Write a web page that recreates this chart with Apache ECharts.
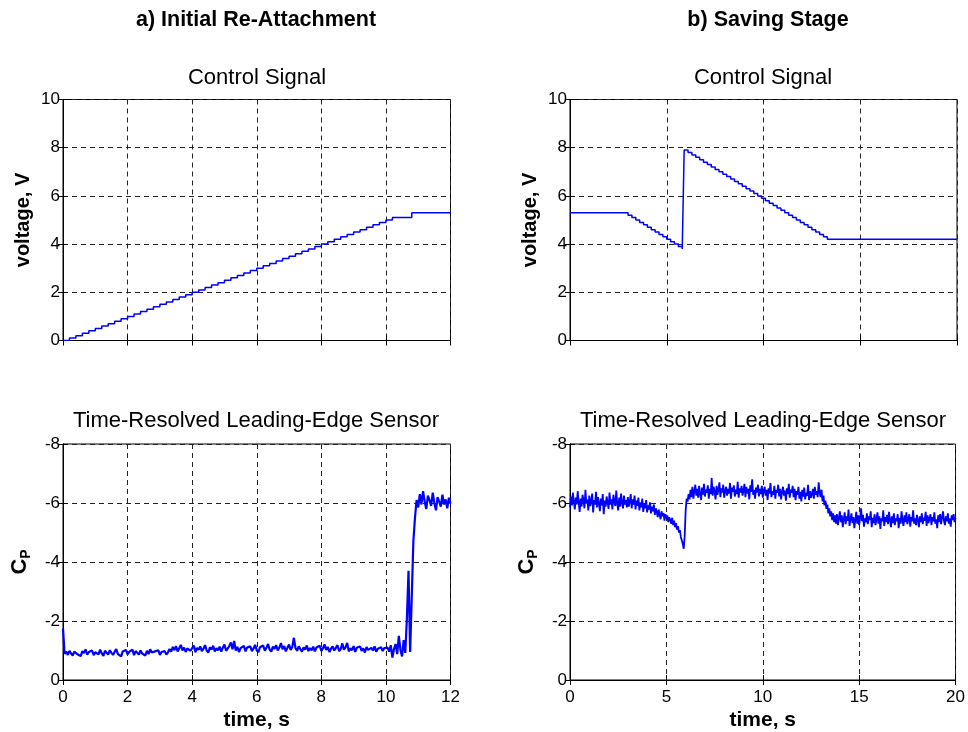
<!DOCTYPE html>
<html>
<head>
<meta charset="utf-8">
<script src="https://cdn.jsdelivr.net/npm/echarts@6/dist/echarts.min.js"></script>
<style>
  html, body { margin: 0; padding: 0; background: #fff; }
  #chart { width: 968px; height: 732px; }
</style>
</head>
<body>
<div id="chart"></div>
<script>
// ---- a) control signal: staircase ramp (step start time, s / level, V) ----
const ctrlA_t = [0, 0.2, 0.4, 0.6, 0.8, 1.0, 1.2, 1.4, 1.6, 1.8,
  2.0, 2.2, 2.4, 2.6, 2.8, 3.0, 3.2, 3.4, 3.6, 3.8,
  4.0, 4.2, 4.4, 4.6, 4.8, 5.0, 5.2, 5.4, 5.6, 5.8,
  6.0, 6.2, 6.4, 6.6, 6.8, 7.0, 7.2, 7.4, 7.6, 7.8,
  8.0, 8.2, 8.4, 8.6, 8.8, 9.0, 9.2, 9.4, 9.6, 9.8,
  10.0, 10.2, 10.8, 12.0];
const ctrlA_v = [0.0, 0.1, 0.2, 0.3, 0.4, 0.5, 0.6, 0.7, 0.8, 0.9,
  1.0, 1.1, 1.2, 1.3, 1.4, 1.5, 1.6, 1.7, 1.8, 1.9,
  2.0, 2.1, 2.2, 2.3, 2.4, 2.5, 2.6, 2.7, 2.8, 2.9,
  3.0, 3.1, 3.2, 3.3, 3.4, 3.5, 3.6, 3.7, 3.8, 3.9,
  4.0, 4.1, 4.2, 4.3, 4.4, 4.5, 4.6, 4.7, 4.8, 4.9,
  5.0, 5.1, 5.3, 5.3];

// ---- b) control signal: hold, ramp down, jump, ramp down, hold ----
const ctrlB_t = [0, 3.0, 3.2, 3.4, 3.6, 3.8, 4.0, 4.2, 4.4, 4.6, 4.8, 5.0, 5.2, 5.4, 5.6, 5.8,
  5.9, 6.1, 6.3, 6.5, 6.7, 6.9, 7.1, 7.3, 7.5, 7.7, 7.9, 8.1, 8.3, 8.5, 8.7, 8.9,
  9.1, 9.3, 9.5, 9.7, 9.9, 10.1, 10.3, 10.5, 10.7, 10.9, 11.1, 11.3, 11.5, 11.7, 11.9,
  12.1, 12.3, 12.5, 12.7, 12.9, 13.1, 13.3, 20.0];
const ctrlB_v = [5.3, 5.2, 5.1, 5.0, 4.9, 4.8, 4.7, 4.6, 4.5, 4.4, 4.3, 4.2, 4.1, 4.0, 3.9, 3.8,
  7.9, 7.8, 7.7, 7.6, 7.5, 7.4, 7.3, 7.2, 7.1, 7.0, 6.9, 6.8, 6.7, 6.6, 6.5, 6.4,
  6.3, 6.2, 6.1, 6.0, 5.9, 5.8, 5.7, 5.6, 5.5, 5.4, 5.3, 5.2, 5.1, 5.0, 4.9,
  4.8, 4.7, 4.6, 4.5, 4.4, 4.3, 4.2, 4.2];

// ---- a) leading-edge pressure coefficient, sampled every 0.05 s from t = 0 ----
const cpA_dt = 0.05;
const cpA = [
  -1.75,
  -0.88, -0.97, -0.85, -0.99, -0.90, -0.83, -0.96, -1.02, -0.87, -0.93,
  -0.81, -0.98, -0.91, -1.04, -0.86, -0.95, -0.89, -1.00, -0.84, -0.94,
  -0.97, -0.87, -1.03, -0.90, -0.82, -0.99, -0.93, -0.86, -1.01, -0.92,
  -0.85, -0.96, -1.05, -0.88, -0.94, -0.80, -0.97, -0.91, -1.02, -0.87,
  -0.95, -0.89, -1.03, -0.84, -0.98, -0.92, -0.86, -1.00, -0.90, -0.96,
  -0.83, -0.99, -0.88, -1.04, -0.93, -0.87, -0.97, -0.91, -1.01, -0.85,
  -0.95, -0.90, -0.98, -0.86, -0.94,
  -1.05, -0.96, -1.12, -1.01, -1.15, -0.97, -1.08, -1.19, -1.00, -1.10,
  -0.95, -1.07, -1.13, -0.99, -1.04, -1.17, -0.94, -1.09, -1.02, -1.14,
  -0.98, -1.06, -1.18, -1.00, -0.93, -1.11, -1.03, -1.16, -0.97, -1.08,
  -1.01, -1.13, -0.96, -1.10, -1.20, -0.99, -1.05, -1.15, -1.27, -1.04,
  -1.32, -1.00, -1.12, -0.95, -1.08, -1.02, -1.16, -0.97, -1.10, -1.04,
  -1.14, -0.98, -1.07, -1.19, -1.01, -0.94, -1.11, -1.05, -1.17, -0.99,
  -1.09, -1.22, -1.03, -0.96, -1.13, -1.06, -1.18, -1.00, -1.10, -1.25,
  -1.04, -1.15, -0.97, -1.09, -1.20, -1.02, -1.12, -1.43, -1.08, -0.99,
  -1.14, -1.05, -0.96, -1.11, -1.03, -1.17, -0.98, -1.08, -1.01, -1.13,
  -0.97, -1.10, -1.04, -1.16, -0.99, -1.07, -1.21, -1.02, -1.12, -0.95,
  -1.06, -1.14, -1.00, -1.09, -1.18, -0.98, -1.05, -1.24, -1.03, -1.11,
  -1.26, -0.97, -1.08, -1.01, -1.15, -0.95, -1.10, -1.04, -1.13, -0.99,
  -1.07, -0.93, -1.12, -1.02, -0.97, -1.09, -1.00, -1.14, -0.96, -1.06,
  -1.01, -1.11, -0.98, -1.08, -1.03,
  -1.10, -0.96, -1.18, -0.76, -1.05, -1.22, -0.88, -1.50, -1.02, -0.80, -1.35, -0.92,
  -2.10, -3.70, -0.95, -2.80, -4.70, -5.50, -6.10,
  -5.85, -6.30, -5.95, -6.40, -6.05, -5.80, -6.25, -6.10, -5.90, -6.35,
  -6.00, -5.75, -6.20, -6.05, -5.88, -6.28, -5.95, -6.12, -5.82, -6.18, -5.98
];

// ---- b) leading-edge pressure coefficient, sampled every 0.05 s from t = 0 ----
const cpB_dt = 0.05;
const cpB = [
  // 0 - 2.95 s
  -5.85, -6.22, -5.92, -6.35, -6.05, -5.78, -6.18, -5.95, -6.40, -6.02,
  -5.70, -6.15, -5.88, -6.28, -6.08, -5.82, -6.45, -5.98, -6.12, -5.75,
  -6.25, -5.90, -6.05, -6.32, -5.68, -6.10, -5.95, -6.38, -5.85, -6.20,
  -6.00, -5.72, -6.15, -5.92, -6.30, -5.62, -6.08, -5.88, -6.22, -6.02,
  -5.80, -6.35, -5.95, -6.12, -5.78, -6.28, -6.05, -5.90, -6.42, -5.98,
  -5.75, -6.18, -5.88, -6.32, -6.00, -5.82, -6.25, -5.95, -6.10, -5.85,
  // 3.0 - 4.45 s
  -6.20, -5.88, -6.05, -6.30, -5.82, -6.12, -5.95, -6.25, -5.78, -6.08,
  -5.90, -6.18, -5.75, -6.02, -5.85, -6.15, -5.70, -5.98, -5.82, -6.10,
  -5.68, -5.92, -5.78, -6.02, -5.65, -5.88, -5.72, -5.95, -5.60, -5.82,
  // 4.5 - 5.9 s
  -5.70, -5.52, -5.78, -5.60, -5.45, -5.72, -5.55, -5.66, -5.40, -5.62,
  -5.48, -5.58, -5.35, -5.52, -5.42, -5.30, -5.50, -5.25, -5.40, -5.18,
  -5.32, -5.10, -5.22, -5.00, -5.08, -4.85, -4.90, -4.62, -4.45,
  // 5.95 - 6.05 s
  -4.90, -5.75, -6.15,
  // 6.1 - 12.95 s
  -6.05, -6.30, -6.12, -6.45, -6.20, -6.55, -6.15, -6.40, -6.62, -6.25,
  -6.48, -6.18, -6.58, -6.32, -6.10, -6.52, -6.28, -6.65, -6.22, -6.45,
  -6.35, -6.60, -6.15, -6.48, -6.30, -6.85, -6.25, -6.55, -6.38, -6.12,
  -6.58, -6.28, -6.45, -6.70, -6.20, -6.50, -6.35, -6.62, -6.18, -6.42,
  -6.55, -6.25, -6.48, -6.32, -6.68, -6.15, -6.52, -6.38, -6.60, -6.22,
  -6.45, -6.30, -6.72, -6.18, -6.50, -6.35, -6.58, -6.25, -6.42, -6.65,
  -6.20, -6.55, -6.32, -6.48, -6.12, -6.60, -6.38, -6.80, -6.28, -6.45,
  -6.15, -6.52, -6.35, -6.62, -6.22, -6.48, -6.30, -6.58, -6.18, -6.42,
  -6.55, -6.25, -6.45, -6.10, -6.50, -6.32, -6.68, -6.20, -6.40, -6.28,
  -6.58, -6.15, -6.45, -6.35, -6.62, -6.22, -6.48, -6.12, -6.38, -6.55,
  -6.25, -6.42, -6.08, -6.50, -6.30, -6.65, -6.18, -6.45, -6.35, -6.58,
  -6.20, -6.48, -6.10, -6.40, -6.28, -6.55, -6.15, -6.38, -6.05, -6.45,
  -6.22, -6.52, -6.12, -6.35, -6.25, -6.62, -6.10, -6.40, -6.18, -6.30,
  -6.48, -6.15, -6.55, -6.28, -6.40, -6.20, -6.70, -6.35,
  // 13.0 - 13.75 s
  -6.20, -6.45, -6.05, -6.25, -5.92, -6.08, -5.80, -5.95,
  -5.65, -5.82, -5.55, -5.72, -5.42, -5.65, -5.35, -5.58,
  // 13.8 - 20.0 s
  -5.30, -5.62, -5.25, -5.50, -5.72, -5.35, -5.58, -5.18, -5.45, -5.68,
  -5.28, -5.55, -5.40, -5.78, -5.22, -5.48, -5.65, -5.32, -5.52, -5.15,
  -5.42, -5.70, -5.30, -5.58, -5.25, -5.50, -5.82, -5.38, -5.60, -5.20,
  -5.48, -5.35, -5.65, -5.28, -5.55, -5.42, -5.72, -5.18, -5.50, -5.32,
  -5.62, -5.25, -5.45, -5.68, -5.30, -5.55, -5.12, -5.48, -5.38, -5.75,
  -5.22, -5.52, -5.35, -5.60, -5.28, -5.70, -5.42, -5.18, -5.55, -5.32,
  -5.65, -5.25, -5.48, -5.38, -5.62, -5.15, -5.50, -5.30, -5.72, -5.40,
  -5.22, -5.58, -5.35, -5.68, -5.28, -5.45, -5.62, -5.20, -5.52, -5.38,
  -5.75, -5.30, -5.48, -5.25, -5.60, -5.42, -5.18, -5.55, -5.35, -5.65,
  -5.28, -5.50, -5.40, -5.70, -5.22, -5.58, -5.32, -5.48, -5.62, -5.25,
  -5.52, -5.38, -5.68, -5.30, -5.45, -5.15, -5.58, -5.35, -5.62, -5.28,
  -5.50, -5.72, -5.40, -5.25, -5.55, -5.38, -5.65, -5.30, -5.48, -5.20,
  -5.58, -5.42, -5.62, -5.35, -5.50
];

const FONT = '"Liberation Sans", Arial, Helvetica, sans-serif';
const BLUE = '#0000ff';

const pairs = (xs, ys) => xs.map((x, i) => [x, ys[i]]);
const sampled = (ys, dt) => ys.map((y, i) => [+(i * dt).toFixed(3), y]);

const grids = [
  { left: 63, top: 99.5, width: 387.5, height: 241 },
  { left: 570, top: 99.5, width: 387, height: 241 },
  { left: 63, top: 444, width: 387.5, height: 239 },
  { left: 570, top: 444, width: 387, height: 239 }
].map(g => Object.assign({ show: true, borderColor: '#000', borderWidth: 1, backgroundColor: '#fff' }, g));

const gridLine = { show: true, lineStyle: { color: '#222', width: 1, type: [5, 4] } };
const tickLabel = { fontFamily: FONT, fontSize: 17, color: '#000' };

function xAx(gi, max, interval, showLabels) {
  return {
    type: 'value', gridIndex: gi, min: 0, max: max, interval: interval,
    axisLine: { show: true, onZero: false, lineStyle: { color: '#000', width: 1 } },
    axisTick: { show: true, inside: true, length: 5, lineStyle: { color: '#000' } },
    axisLabel: Object.assign({ show: showLabels, margin: 9 }, tickLabel),
    splitLine: gridLine,
    name: showLabels ? 'time, s' : '',
    nameLocation: 'middle', nameGap: 30,
    nameTextStyle: { fontFamily: FONT, fontSize: 21, fontWeight: 'bold', color: '#000' }
  };
}
function xTop(gi, max, interval) {
  return {
    type: 'value', gridIndex: gi, min: 0, max: max, interval: interval, position: 'top',
    axisLine: { show: true, lineStyle: { color: '#000' } },
    axisTick: { show: true, inside: true, length: 5, lineStyle: { color: '#000' } },
    axisLabel: { show: false }, splitLine: { show: false }
  };
}
function yAx(gi, min, max, inverse, name, nameStyle) {
  return {
    type: 'value', gridIndex: gi, min: min, max: max, interval: 2, inverse: inverse,
    axisLine: { show: true, onZero: false, lineStyle: { color: '#000', width: 1 } },
    axisTick: { show: true, inside: true, length: 5, lineStyle: { color: '#000' } },
    axisLabel: Object.assign({ margin: 3 }, tickLabel),
    splitLine: gridLine,
    name: name, nameLocation: 'middle', nameGap: 30,
    nameTextStyle: nameStyle
  };
}
function yRight(gi, min, max, inverse) {
  return {
    type: 'value', gridIndex: gi, min: min, max: max, interval: 2, inverse: inverse, position: 'right',
    axisLine: { show: true, lineStyle: { color: '#000' } },
    axisTick: { show: true, inside: true, length: 5, lineStyle: { color: '#000' } },
    axisLabel: { show: false }, splitLine: { show: false }
  };
}

const voltName = { fontFamily: FONT, fontSize: 20, fontWeight: 'bold', color: '#000' };
const cpName = {
  color: '#000',
  rich: {
    c: { fontFamily: FONT, fontSize: 22, fontWeight: 'bold', color: '#000' },
    p: { fontFamily: FONT, fontSize: 14, fontWeight: 'bold', color: '#000', padding: [12, 0, 0, 0] }
  }
};

const textEl = (x, y, text, size, weight) => ({
  type: 'text', x: x, y: y,
  style: { text: text, fontFamily: FONT, fontSize: size, fontWeight: weight, fill: '#000',
           textAlign: 'center', textVerticalAlign: 'middle' }
});

const option = {
  animation: false,
  backgroundColor: '#fff',
  grid: grids,
  xAxis: [
    xAx(0, 12, 2, false), xAx(1, 20, 5, false), xAx(2, 12, 2, true), xAx(3, 20, 5, true),
    xTop(0, 12, 2), xTop(1, 20, 5), xTop(2, 12, 2), xTop(3, 20, 5)
  ],
  yAxis: [
    yAx(0, 0, 10, false, 'voltage, V', voltName),
    yAx(1, 0, 10, false, 'voltage, V', voltName),
    yAx(2, -8, 0, true, '{c|C}{p|P}', cpName),
    yAx(3, -8, 0, true, '{c|C}{p|P}', cpName),
    yRight(0, 0, 10, false), yRight(1, 0, 10, false), yRight(2, -8, 0, true), yRight(3, -8, 0, true)
  ],
  graphic: [
    textEl(256, 20, 'a) Initial Re-Attachment', 21.5, 'bold'),
    textEl(768, 20, 'b) Saving Stage', 21.5, 'bold'),
    textEl(257, 78, 'Control Signal', 22, 'normal'),
    textEl(763, 78, 'Control Signal', 22, 'normal'),
    textEl(256, 421, 'Time-Resolved Leading-Edge Sensor', 22, 'normal'),
    textEl(763, 421, 'Time-Resolved Leading-Edge Sensor', 22, 'normal')
  ],
  series: [
    { type: 'line', xAxisIndex: 0, yAxisIndex: 0, step: 'end', showSymbol: false, symbol: 'none',
      data: pairs(ctrlA_t, ctrlA_v), lineStyle: { color: BLUE, width: 1.5 } },
    { type: 'line', xAxisIndex: 1, yAxisIndex: 1, step: 'end', showSymbol: false, symbol: 'none',
      data: pairs(ctrlB_t, ctrlB_v), lineStyle: { color: BLUE, width: 1.5 } },
    { type: 'line', xAxisIndex: 2, yAxisIndex: 2, showSymbol: false, symbol: 'none',
      data: sampled(cpA, cpA_dt), lineStyle: { color: BLUE, width: 2.2 } },
    { type: 'line', xAxisIndex: 3, yAxisIndex: 3, showSymbol: false, symbol: 'none',
      data: sampled(cpB, cpB_dt), lineStyle: { color: BLUE, width: 1.8 } }
  ]
};

const chart = echarts.init(document.getElementById('chart'), null, { renderer: 'canvas' });
chart.setOption(option);
</script>
</body>
</html>
